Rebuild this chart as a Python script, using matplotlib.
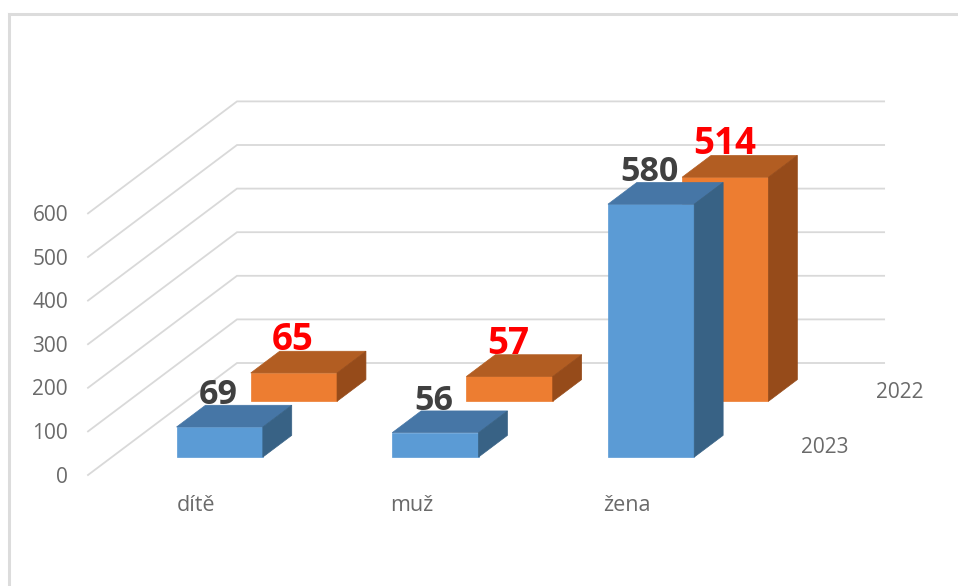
import matplotlib
matplotlib.use('Agg')
import matplotlib.pyplot as plt
from matplotlib.lines import Line2D
from matplotlib.patches import Polygon

plt.rcParams['font.family'] = ['Open Sans', 'DejaVu Sans']

categories = ['dítě', 'muž', 'žena']
series_names = ['2022', '2023']
values_2022 = [65, 57, 514]
values_2023 = [69, 56, 580]
value_ticks = [0, 100, 200, 300, 400, 500, 600]

# pixel scale of the fake 3d box
CAT_PX = 215.7
VAL_PX = 0.436
DEPTH_X = 149 / CAT_PX
DEPTH_Y = 112 / VAL_PX
BAR_W = 0.40
BAR_D = 0.194


def proj(u, v, d):
    return u + d * DEPTH_X, v + d * DEPTH_Y


def box(ax, u, val, d, front, top, side):
    l, r = u - BAR_W / 2, u + BAR_W / 2
    d2 = d + BAR_D
    faces = [
        ([(l, 0, d), (r, 0, d), (r, val, d), (l, val, d)], front),
        ([(l, val, d), (r, val, d), (r, val, d2), (l, val, d2)], top),
        ([(r, 0, d), (r, 0, d2), (r, val, d2), (r, val, d)], side),
    ]
    for pts, col in faces:
        ax.add_patch(Polygon([proj(*p) for p in pts], closed=True, facecolor=col,
                             edgecolor=col, linewidth=0.5, zorder=3))


fig = plt.figure(figsize=(9.58, 5.86), dpi=100)
ax = fig.add_axes([0, 0, 1, 1])
ax.set_xlim(-88 / CAT_PX, (958 - 88) / CAT_PX)
ax.set_ylim((475 - 586) / VAL_PX, 475 / VAL_PX)
ax.axis('off')

# frame of the screenshot
fig.add_artist(Line2D([9 / 958, 1], [1 - 14 / 586, 1 - 14 / 586], color='#dcdcdc', lw=2.2))
fig.add_artist(Line2D([9 / 958, 9 / 958], [0, 1 - 14 / 586], color='#dcdcdc', lw=2.2))

n = len(categories)
for t in value_ticks:
    xs, ys = zip(proj(0, t, 0), proj(0, t, 1), proj(n, t, 1))
    ax.plot(xs, ys, color='#d9d9d9', lw=1.3, zorder=1, solid_joinstyle='miter')
    ax.text(-20 / CAT_PX, t - 5, str(t), color='#6a6a6a', fontsize=15, ha='right', va='center')

styles = {'2022': ('#ED7D31', '#B25D22', '#964B1A', 0.658, values_2022, '#ff0000', 26.5),
          '2023': ('#5B9BD5', '#4676A6', '#386285', 0.16, values_2023, '#404040', 24.5)}

for name in series_names:
    front, top, side, d, vals, lab, size = styles[name]
    for i, val in enumerate(vals):
        box(ax, i + 0.5, val, d, front, top, side)
    x, y = proj(n + 0.24, 0, d + BAR_D / 2)
    ax.text(x, y - 4, name, color='#6a6a6a', fontsize=15, ha='center', va='center')

for name in series_names:
    front, top, side, d, vals, lab, size = styles[name]
    for i, val in enumerate(vals):
        x, y = proj(i + 0.5, val, d + BAR_D)
        ax.annotate(str(val), (x, y), xytext=(-30, 1), textcoords='offset pixels', color=lab,
                    fontsize=size, fontweight='bold', ha='center', va='baseline', zorder=4)

for i, cat in enumerate(categories):
    ax.text(i + 0.5, -71, cat, color='#6a6a6a', fontsize=15.5, ha='center', va='center')

fig.savefig('out.png', dpi=100)
